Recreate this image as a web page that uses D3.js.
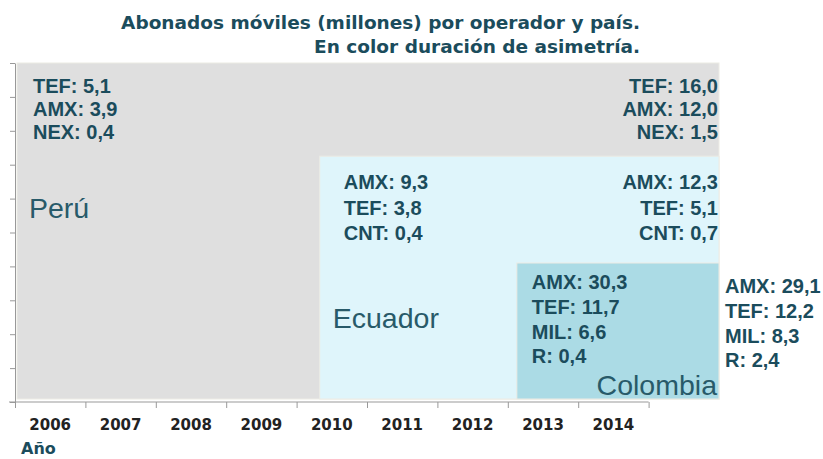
<!DOCTYPE html>
<html>
<head>
<meta charset="utf-8">
<script src="https://cdn.jsdelivr.net/npm/d3@7"></script>
<style>
  body { margin: 0; background: #fff; }
  svg { display: block; font-family: 'Liberation Sans', Arial, sans-serif; }
</style>
</head>
<body>
<svg id="chart" width="823" height="459"></svg>
<script>
// data
const years = ['2006', '2007', '2008', '2009', '2010', '2011', '2012', '2013', '2014']
const countries = ['Perú', 'Ecuador', 'Colombia']
const asymStart = [2006, 2010.3, 2013.1]
const asymEnd = [2016, 2016, 2016]
const asymLevel = [10, 7.25, 4.1]
const operators = [['TEF', 'AMX', 'NEX'], ['AMX', 'TEF', 'CNT'], ['AMX', 'TEF', 'MIL', 'R']]
const subsFirst = [[5.1, 3.9, 0.4], [9.3, 3.8, 0.4], [30.3, 11.7, 6.6, 0.4]]
const subsLast = [[16.0, 12.0, 1.5], [12.3, 5.1, 0.7], [29.1, 12.2, 8.3, 2.4]]
const fills = ['#dfdfdf', '#dff5fb', '#abdbe5']

// label placement per country (style only)
const layout = [
  { sx: 16, sy: 22.5, gap: 23.3, ex: -1, ey: 22.5, eAnchor: 'end', nx: 12, ny: 145, nAnchor: 'start' },
  { sx: 24, sy: 26, gap: 25.5, ex: -1, ey: 26, eAnchor: 'end', nx: 13, ny: 162, nAnchor: 'start' },
  { sx: 15, sy: 19, gap: 24.8, ex: 6, ey: 23, eAnchor: 'start', nx: -2, ny: 122, nAnchor: 'end' }
]

const teal = '#1b4c5c'
const fmt = d3.formatLocale({ decimal: ',', thousands: '.', grouping: [3], currency: ['', ''] }).format('.1f')

const svg = d3.select('#chart')

const x = d3.scaleLinear().domain([2006, 2016]).range([15, 719])
const y = d3.scaleLinear().domain([0, 10]).range([402, 63])

// title
const title = svg.append('g')
  .attr('font-family', "'DejaVu Sans', Verdana, sans-serif")
  .attr('font-size', 18.5).attr('font-weight', 'bold')
  .attr('fill', teal)
  .attr('text-anchor', 'end')
title.append('text')
  .attr('x', 640).attr('y', 29)
  .text('Abonados móviles (millones) por operador y país.')
title.append('text')
  .attr('x', 640).attr('y', 53)
  .text('En color duración de asimetría.')

// asymmetry blocks
const blocks = svg.append('g')
  .selectAll('g')
  .data(countries)
  .join('g')

blocks.append('rect')
  .attr('x', (d, i) => x(asymStart[i]) + 2)
  .attr('y', (d, i) => y(asymLevel[i]))
  .attr('width', (d, i) => x(asymEnd[i]) - x(asymStart[i]) - 2)
  .attr('height', (d, i) => y(0) - y(asymLevel[i]) - 3)
  .attr('fill', (d, i) => fills[i])
  .attr('stroke', '#ecebe4')
  .attr('stroke-width', 1)

blocks.each(function (name, i) {
  const g = d3.select(this)
  const L = layout[i]
  const left = x(asymStart[i]) + 2
  const right = x(asymEnd[i])
  const top = y(asymLevel[i])

  g.append('g')
    .selectAll('text')
    .data(operators[i])
    .join('text')
    .attr('x', left + L.sx)
    .attr('y', (d, j) => top + L.sy + j * L.gap)
    .attr('dy', '0.35em')
    .attr('font-size', 20).attr('font-weight', 'bold')
    .attr('fill', teal)
    .text((d, j) => d + ': ' + fmt(subsFirst[i][j]))

  g.append('g')
    .selectAll('text')
    .data(operators[i])
    .join('text')
    .attr('x', right + L.ex)
    .attr('y', (d, j) => top + L.ey + j * L.gap)
    .attr('dy', '0.35em')
    .attr('text-anchor', L.eAnchor)
    .attr('font-size', 20).attr('font-weight', 'bold')
    .attr('fill', teal)
    .text((d, j) => d + ': ' + fmt(subsLast[i][j]))

  g.append('text')
    .attr('x', (L.nAnchor === 'end' ? right : left) + L.nx)
    .attr('y', top + L.ny)
    .attr('dy', '0.35em')
    .attr('text-anchor', L.nAnchor)
    .attr('font-size', 28.5)
    .attr('fill', '#285a69')
    .text(name)
})

// axes
const yAxis = svg.append('g')
  .attr('transform', `translate(${x(2006)},0)`)
  .call(d3.axisLeft(y).ticks(10).tickSize(5).tickSizeOuter(0).tickFormat(''))
yAxis.selectAll('path, line').attr('stroke', '#999')

const xb = d3.scaleBand().domain(years).range([x(2006), x(2015)])
const xAxis = svg.append('g')
  .attr('transform', `translate(0,${y(0)})`)
  .call(d3.axisBottom(x).tickValues(d3.range(2006, 2016)).tickSize(6).tickSizeOuter(0).tickFormat(''))
xAxis.select('.domain').attr('d', `M${x(2006) - 6},0H${x(2015)}`)
xAxis.selectAll('path, line').attr('stroke', '#999')

svg.append('g')
  .attr('font-family', "'DejaVu Sans', Verdana, sans-serif")
  .selectAll('text')
  .data(years)
  .join('text')
  .attr('x', d => xb(d) + xb.bandwidth() / 2)
  .attr('y', 425)
  .attr('dy', '0.35em')
  .attr('text-anchor', 'middle')
  .attr('font-size', 15).attr('font-weight', 'bold')
  .attr('fill', '#222')
  .text(d => d)

svg.append('text')
  .attr('font-family', "'DejaVu Sans', Verdana, sans-serif")
  .attr('x', 21).attr('y', 448)
  .attr('dy', '0.35em')
  .attr('font-size', 16).attr('font-weight', 'bold')
  .attr('fill', teal)
  .text('Año')
</script>
</body>
</html>
